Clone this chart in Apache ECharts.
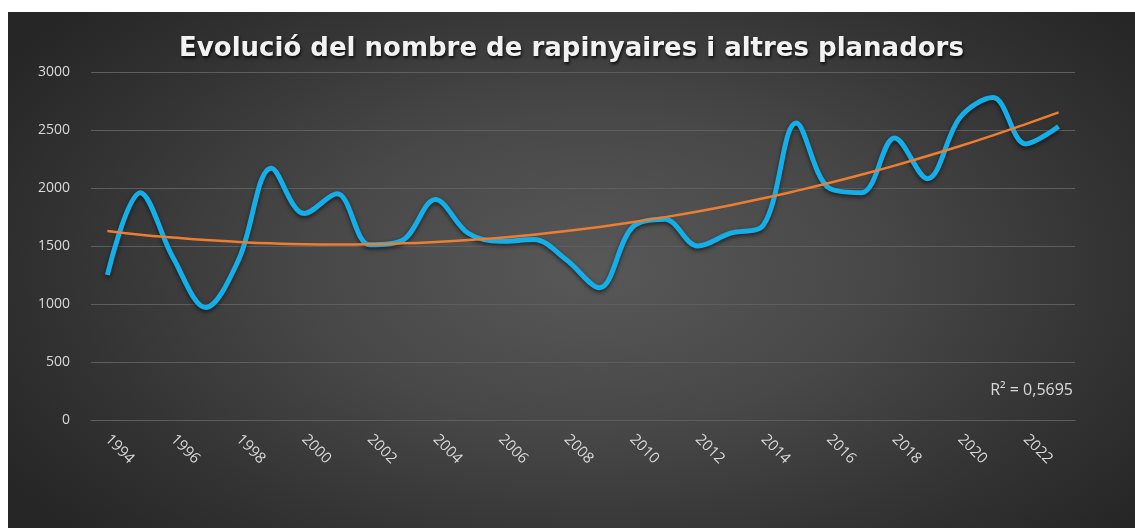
<!DOCTYPE html>
<html>
<head>
<meta charset="utf-8">
<script src="https://cdn.jsdelivr.net/npm/echarts@6/dist/echarts.min.js"></script>
<style>
  html, body { margin: 0; padding: 0; background: #ffffff; }
  #myChart {
    position: absolute; left: 8px; top: 12px; width: 1127px; height: 516px;
    background: radial-gradient(ellipse 62% 75% at 52% 50%, #585858 0%, #484848 40%, #333333 75%, #262626 100%);
  }
</style>
</head>
<body>
<div id="myChart"></div>
<script>
const years = ['1994', '1995', '1996', '1997', '1998', '1999', '2000', '2001', '2002', '2003',
  '2004', '2005', '2006', '2007', '2008', '2009', '2010', '2011', '2012', '2013',
  '2014', '2015', '2016', '2017', '2018', '2019', '2020', '2021', '2022', '2023']
const birds = [1250, 1960, 1400, 970, 1380, 2170, 1780, 1950, 1510, 1550,
  1900, 1610, 1540, 1555, 1380, 1140, 1660, 1730, 1500, 1610,
  1680, 2560, 2000, 1960, 2430, 2080, 2610, 2780, 2380, 2530]
// línia de tendència llegida del gràfic
const trend = [1629, 1598, 1573, 1551, 1535, 1523, 1516, 1514, 1516, 1523,
  1535, 1551, 1572, 1598, 1629, 1664, 1704, 1749, 1798, 1852,
  1911, 1975, 2043, 2116, 2193, 2276, 2362, 2454, 2551, 2652]
const r2Label = 'R² = 0,5695'

const myChart = echarts.init(document.getElementById('myChart'))
myChart.setOption({
  title: {
    text: 'Evolució del nombre de rapinyaires i altres planadors',
    left: 'center',
    top: 19,
    textStyle: {
      color: '#f2f2f2',
      fontFamily: 'DejaVu Sans',
      fontWeight: 'bold',
      fontSize: 26,
      textShadowColor: 'rgba(0,0,0,0.8)',
      textShadowBlur: 3,
      textShadowOffsetX: 1,
      textShadowOffsetY: 2
    }
  },
  grid: {
    left: 83,
    right: 60,
    top: 60,
    bottom: 108
  },
  xAxis: {
    type: 'category',
    data: years,
    axisLine: { lineStyle: { color: '#5e5e5e', width: 1 } },
    axisTick: { show: false },
    axisLabel: {
      interval: 1,
      rotate: -45,
      color: '#d9d9d9',
      fontFamily: 'Open Sans',
      fontSize: 15,
      margin: 17
    }
  },
  yAxis: {
    type: 'value',
    min: 0,
    max: 3000,
    interval: 500,
    axisLine: { show: false },
    axisTick: { show: false },
    axisLabel: {
      formatter: (v) => String(v),
      color: '#d9d9d9',
      fontFamily: 'Open Sans',
      fontSize: 14,
      margin: 21
    },
    splitLine: { lineStyle: { color: '#5e5e5e', width: 1 } }
  },
  graphic: [
    {
      type: 'text',
      right: 62,
      top: 370,
      style: {
        text: r2Label,
        fill: '#d9d9d9',
        font: '16px "Open Sans"'
      }
    }
  ],
  series: [
    {
      name: 'Rapinyaires',
      type: 'line',
      data: birds,
      smooth: 0.35,
      symbol: 'none',
      lineStyle: {
        color: '#14aee8',
        width: 5,
        shadowColor: 'rgba(0,0,0,0.6)',
        shadowBlur: 4,
        shadowOffsetY: 2
      },
      z: 3
    },
    {
      name: 'Tendència',
      type: 'line',
      data: trend,
      smooth: true,
      symbol: 'none',
      lineStyle: { color: '#ed7d31', width: 2.5 },
      z: 4
    }
  ]
})
</script>
</body>
</html>
